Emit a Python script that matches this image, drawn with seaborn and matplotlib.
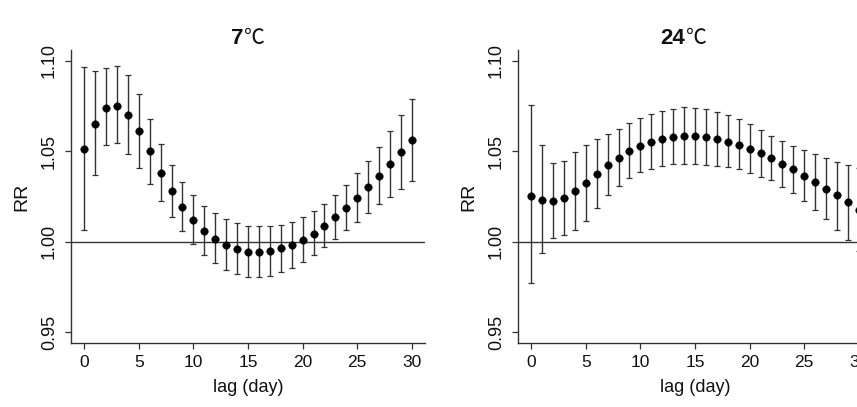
import numpy as np
import pandas as pd
import matplotlib
matplotlib.use("Agg")
import matplotlib.pyplot as plt
import seaborn as sns

lags = list(range(31))

rr_7 = [1.051, 1.065, 1.074, 1.075, 1.070, 1.061, 1.050, 1.038, 1.028, 1.019, 1.012,
        1.006, 1.0015, 0.998, 0.996, 0.9944, 0.9941, 0.9948, 0.9963, 0.9983, 1.0011,
        1.0044, 1.0089, 1.0137, 1.0187, 1.0243, 1.030, 1.0365, 1.0428, 1.0496, 1.0561]
lo_7 = [1.0063, 1.0367, 1.0532, 1.0544, 1.0487, 1.0409, 1.0317, 1.0226, 1.0137, 1.0059, 0.9989,
        0.9926, 0.9880, 0.9844, 0.9822, 0.9806, 0.9804, 0.9813, 0.9831, 0.9856, 0.9887,
        0.9928, 0.9970, 1.0017, 1.0063, 1.0111, 1.0157, 1.0206, 1.0248, 1.0291, 1.0335]
hi_7 = [1.0967, 1.0944, 1.0963, 1.0972, 1.0924, 1.0815, 1.0680, 1.0541, 1.0422, 1.0330, 1.0257,
        1.0198, 1.0157, 1.0125, 1.0103, 1.0089, 1.0085, 1.0085, 1.0093, 1.0109, 1.0137,
        1.0170, 1.0209, 1.0257, 1.0313, 1.0380, 1.0448, 1.0526, 1.0613, 1.0700, 1.0791]

rr_24 = [1.0252, 1.0230, 1.0226, 1.0243, 1.0278, 1.0326, 1.0374, 1.0422, 1.0465, 1.0500, 1.0531,
         1.0554, 1.0570, 1.0579, 1.0585, 1.0583, 1.0579, 1.0570, 1.0554, 1.0537, 1.0515,
         1.0493, 1.0461, 1.0431, 1.0400, 1.0365, 1.0330, 1.0291, 1.0256, 1.0217, 1.0178]
lo_24 = [0.9774, 0.9937, 1.0019, 1.0039, 1.0065, 1.0115, 1.0185, 1.0256, 1.0307, 1.0350, 1.0383,
         1.0404, 1.0418, 1.0427, 1.0431, 1.0431, 1.0424, 1.0420, 1.0413, 1.0400, 1.0381,
         1.0359, 1.0339, 1.0304, 1.0269, 1.0226, 1.0178, 1.0124, 1.0067, 1.0011, 0.9950]
hi_24 = [1.0756, 1.0537, 1.0437, 1.0448, 1.0496, 1.0537, 1.0567, 1.0596, 1.0622, 1.0655, 1.0682,
         1.0706, 1.0724, 1.0736, 1.0743, 1.0741, 1.0732, 1.0719, 1.0698, 1.0676, 1.0650,
         1.0619, 1.0587, 1.0557, 1.0531, 1.0506, 1.0483, 1.0461, 1.0441, 1.0422, 1.0409]

panel_titles = ["7", "24"]
x_ticks = [0, 5, 10, 15, 20, 25, 30]
y_ticks = [0.95, 1.00, 1.05, 1.10]
y_ticklabels = ["0.95", "1.00", "1.05", "1.10"]
x_label = "lag (day)"
y_label = "RR"

sns.set_theme(style="white")
fam = ["Liberation Sans", "DejaVu Sans"]
plt.rcParams["font.family"] = fam

W, H = 857, 407
fig = plt.figure(figsize=(W / 100, H / 100), dpi=100)
fig.patch.set_facecolor("white")

panels = [(rr_7, lo_7, hi_7), (rr_24, lo_24, hi_24)]
lefts = [71, 518]
ax_w, ax_top, ax_bot = 354, 50, 343
title_split = [243, 685]
axis_col = "#333333"
txt_col = "#111111"

for i, (rr, lo, hi) in enumerate(panels):
    ax = fig.add_axes([lefts[i] / W, 1 - ax_bot / H, ax_w / W, (ax_bot - ax_top) / H])
    ax.set_facecolor("white")
    df = pd.DataFrame({"lag": lags, "rr": rr, "lo": lo, "hi": hi})
    ax.axhline(1.0, color=axis_col, lw=1.0, zorder=1)
    ax.errorbar(df["lag"], df["rr"],
                yerr=[df["rr"] - df["lo"], df["hi"] - df["rr"]],
                fmt="none", ecolor="#333333", elinewidth=1.0, capsize=2.0,
                capthick=0.9, zorder=2)
    sns.scatterplot(data=df, x="lag", y="rr", ax=ax, color="black", s=30,
                    edgecolor="black", linewidth=0.3, zorder=3, legend=False)
    ax.set_xlim(-1.2, 31.2)
    ax.set_ylim(0.944, 1.106)
    for s in ["top", "right"]:
        ax.spines[s].set_visible(False)
    for s in ["left", "bottom"]:
        ax.spines[s].set_visible(True)
        ax.spines[s].set_color(axis_col)
        ax.spines[s].set_linewidth(1.0)
    ax.set_xticks(x_ticks)
    ax.set_xticklabels([str(t) for t in x_ticks], fontsize=12.5, color=txt_col)
    ax.set_yticks(y_ticks)
    ax.set_yticklabels(y_ticklabels, rotation=90, va="center", fontsize=13, color=txt_col)
    ax.tick_params(axis="both", which="both", direction="out", length=4.3, width=0.9,
                   color=axis_col, left=True, bottom=True)
    ax.tick_params(axis="x", pad=4.5)
    ax.tick_params(axis="y", pad=5)
    ax.set_xlabel(x_label, fontsize=13, color=txt_col, labelpad=6)
    ax.set_ylabel(y_label, fontsize=14, color=txt_col, labelpad=8)
    ax.grid(False)
    xs = title_split[i] / W
    fig.text(xs, 1 - 38 / H, panel_titles[i], ha="right", va="center",
             fontsize=16, fontweight="bold", color=txt_col)
    fig.text(xs + 1 / W, 1 - 38 / H, "\u2103", ha="left", va="center",
             fontsize=15, family=["Noto Sans CJK SC", "DejaVu Sans"], color=txt_col)

fig.savefig("out.png", dpi=100, facecolor="white")
